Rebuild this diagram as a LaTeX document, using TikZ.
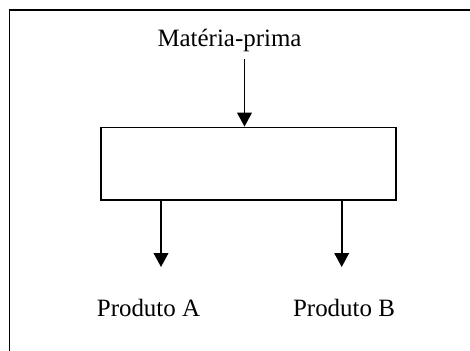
\documentclass[tikz,border=0pt]{standalone}
\usepackage{fontspec}
\setmainfont{Liberation Serif}
\usetikzlibrary{arrows.meta}

\begin{document}
\begin{tikzpicture}[x=0.75pt, y=-0.75pt,
                    every node/.style={font=\fontsize{18.7}{22}\selectfont},
                    line width=1.3pt,>={Triangle[width=11pt,length=10.5pt]}]
\useasboundingbox (0,0) rectangle (470,350);
\clip (0,0) rectangle (470,350);

% Frame
\draw (9.5,10) rectangle (480,360);

% Nodes
\node (raw) [anchor=base] at (229.5,46.5) {Matéria-prima};
\node (proc) [draw, minimum width=221.25pt, minimum height=54.4pt] at (248.5,163.75) {};
\node (prodA) [anchor=base] at (148.5,316.7) {Produto A};
\node (prodB) [anchor=base] at (344,316.7) {Produto B};

% Edges
\coordinate (in) at (244.5,59);
\coordinate (outA) at (161,267);
\coordinate (outB) at (341.7,267);
\draw[->] (in) -- (in |- proc.north);
\draw[->] (proc.south -| outA) -- (outA);
\draw[->] (proc.south -| outB) -- (outB);

\end{tikzpicture}
\end{document}
